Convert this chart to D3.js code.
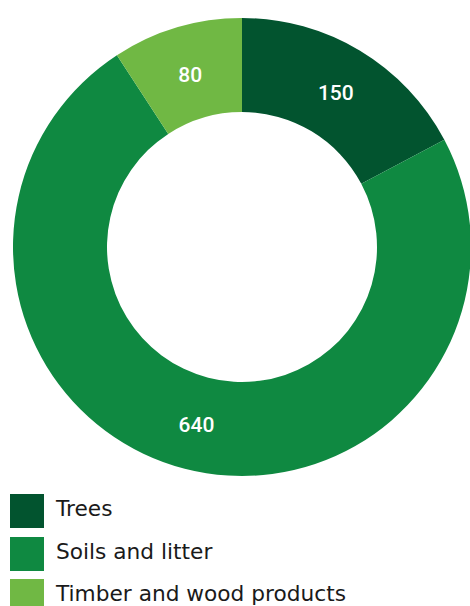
<!DOCTYPE html>
<html>
<head>
<meta charset="utf-8">
<script src="https://cdn.jsdelivr.net/npm/d3@7"></script>
<style>
  html, body { margin: 0; padding: 0; background: #fff; }
  svg { display: block; }
</style>
</head>
<body>
<svg id="chart" width="470" height="606"></svg>
<script>
// Carbon stock components
const categories = ["Trees", "Soils and litter", "Timber and wood products"];
const values = [150, 640, 80];
const colors = ["#02542f", "#0f8941", "#70b844"];

const svg = d3.select("#chart");
const cx = 242, cy = 247;
const outerR = 229, innerR = 135;

const pie = d3.pie().sort(null).value(d => d.value);
const data = categories.map((c, i) => ({ name: c, value: values[i], color: colors[i] }));
const arcs = pie(data);

const arc = d3.arc().innerRadius(innerR).outerRadius(outerR);

const g = svg.append("g").attr("transform", `translate(${cx},${cy})`);

g.selectAll("path")
  .data(arcs)
  .join("path")
  .attr("d", arc)
  .attr("fill", d => d.data.color);

g.selectAll("text.val")
  .data(arcs)
  .join("text")
  .attr("class", "val")
  .attr("transform", d => `translate(${arc.centroid(d)})`)
  .attr("text-anchor", "middle")
  .attr("dy", "0.44em")
  .attr("fill", "#fff")
  .style("font-family", "Roboto, sans-serif")
  .style("font-weight", 500)
  .style("font-size", "21px")
  .text(d => d.data.value);

// Legend
const legend = svg.append("g").attr("transform", "translate(10,494)");
const item = legend.selectAll("g")
  .data(data)
  .join("g")
  .attr("transform", (d, i) => `translate(0,${Math.round(i * 42.5)})`);

item.append("rect")
  .attr("width", 34)
  .attr("height", 34)
  .attr("fill", d => d.color);

const labels = item.append("text")
  .attr("x", 46)
  .attr("y", 22)
  .attr("fill", "#1a1a1a")
  .style("font-family", "'DejaVu Sans', sans-serif")
  .style("font-weight", 400)
  .style("font-size", "20px")
  .text(d => d.name);

// size legend type so the longest entry spans about 290px
const longest = d3.max(labels.nodes(), n => n.getComputedTextLength());
labels.style("font-size", (20 * 290 / longest).toFixed(2) + "px");
</script>
</body>
</html>
